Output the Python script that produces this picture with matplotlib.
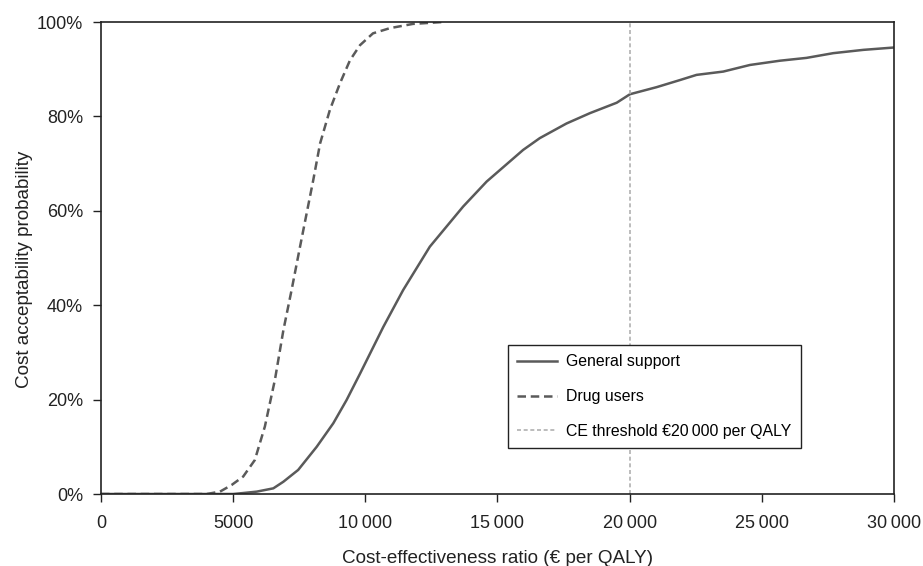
import numpy as np
import matplotlib.pyplot as plt

plt.rcParams['font.family'] = ['Liberation Sans', 'DejaVu Sans']

# Cost-effectiveness ratio (EUR per QALY) and acceptability (%)
general_x = [0, 5000, 5370, 5890, 6520, 6900, 7460, 8160, 8790, 9290, 9800,
             10680, 11430, 12440, 13700, 14590, 15970, 16600, 17610, 18500,
             19510, 20010, 21020, 21900, 22530, 23540, 24550, 25680, 26690,
             27700, 28840, 30000]
general_y = [0, 0, 0.2, 0.5, 1.2, 2.6, 5.1, 10.0, 15.0, 19.9, 25.5,
             35.4, 43.2, 52.4, 60.9, 66.2, 72.9, 75.4, 78.5, 80.7,
             82.9, 84.7, 86.2, 87.7, 88.8, 89.5, 90.9, 91.8, 92.4,
             93.4, 94.1, 94.6]

drug_x = [0, 4000, 4500, 4940, 5380, 5820, 6200, 6580, 6900, 7210, 7530,
          8030, 8290, 8660, 9040, 9420, 9800, 10290, 10930, 11800, 12940]
drug_y = [0, 0, 0.5, 1.9, 3.7, 7.2, 14.3, 24.2, 34.7, 43.2, 52.4,
          66.5, 74.3, 81.4, 87.0, 91.9, 95.1, 97.6, 98.7, 99.6, 100]

threshold = 20000

x_ticks = [0, 5000, 10000, 15000, 20000, 25000, 30000]
x_labels = ['0', '5000', '10\u2009000', '15\u2009000', '20\u2009000', '25\u2009000', '30\u2009000']
y_ticks = [0, 20, 40, 60, 80, 100]
y_labels = ['0%', '20%', '40%', '60%', '80%', '100%']

fig = plt.figure(figsize=(9.23, 5.66), dpi=100)
ax = fig.add_axes([0.1094, 0.1272, 0.8592, 0.8339])

ax.plot(general_x, general_y, color='#5a5a5a', lw=1.8, label='General support')
ax.plot(drug_x, drug_y, color='#5a5a5a', lw=1.8, ls=(0, (3.4, 1.9)), label='Drug users')
ax.plot([threshold, threshold], [0, 100], color='#b0b0b0', lw=1.2, ls=(0, (2.4, 1.6)),
        label='CE threshold \u20ac20\u2009000 per QALY')

ax.set_xlim(0, 30000)
ax.set_ylim(0, 100)
ax.set_xticks(x_ticks)
ax.set_xticklabels(x_labels)
ax.set_yticks(y_ticks)
ax.set_yticklabels(y_labels)
ax.tick_params(direction='out', length=6, width=1, labelsize=13, colors='#222222')
ax.tick_params(axis='x', pad=9)
ax.tick_params(axis='y', pad=7)

for s in ax.spines.values():
    s.set_color('#222222')
    s.set_linewidth(1.2)

ax.set_xlabel('Cost-effectiveness ratio (\u20ac per QALY)', fontsize=13.6, color='#222222')
ax.set_ylabel('Cost acceptability probability', fontsize=13.6, color='#222222')
ax.xaxis.set_label_coords(0.5, -0.118)
ax.yaxis.set_label_coords(-0.086, 0.475)

leg = ax.legend(loc='upper left', bbox_to_anchor=(0.513, 0.316), borderaxespad=0,
                fontsize=11.4, frameon=True, fancybox=False, framealpha=1,
                edgecolor='#222222', handlelength=2.5, handletextpad=0.6,
                labelspacing=1.25, borderpad=0.6)
leg.get_frame().set_linewidth(1.0)

fig.savefig('out.png', dpi=100)
